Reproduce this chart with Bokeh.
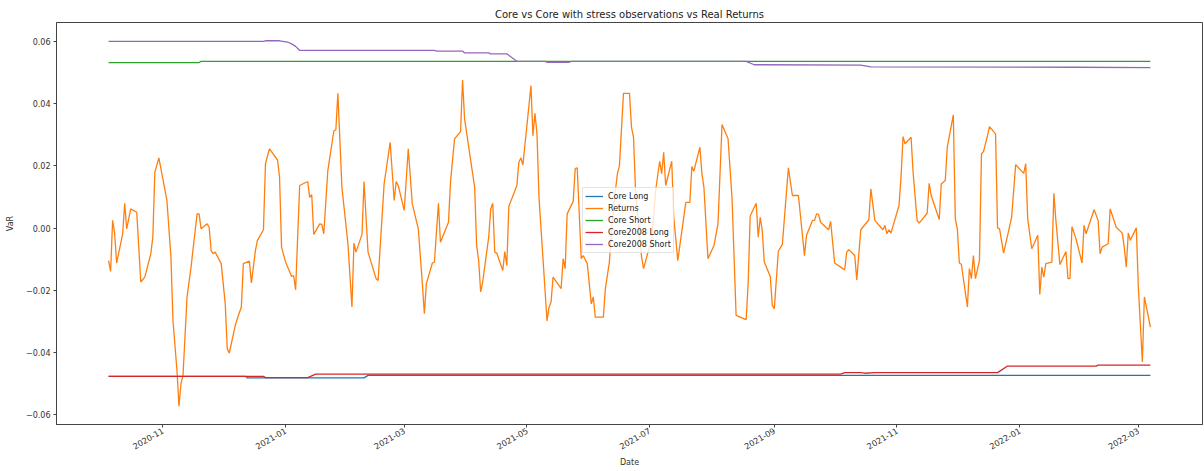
import math
import pandas as pd
from bokeh.plotting import figure
from bokeh.models import (Range1d, MonthsTicker, DatetimeTickFormatter, FixedTicker,
                          CustomJSTickFormatter, Legend, LegendItem)
from bokeh.embed import file_html
from bokeh.resources import INLINE

# ---------------- data ----------------
start_date = "2020-10-05"

returns_day = [0, 1, 2, 3, 4, 7, 8, 9, 11, 14, 16, 18, 21, 22, 23, 25, 29, 31, 32, 34, 35, 36, 37, 39, 41,
               44, 45, 46, 49, 50, 51, 52, 53, 56, 58, 59, 60, 63, 64, 66, 67, 70, 71, 73, 74, 77, 78, 80,
               84, 85, 86, 88, 91, 92, 93, 95, 99, 100, 101, 102, 105, 106, 107, 109, 112, 113, 114, 116,
               119, 121, 122, 123, 126, 127, 129, 133, 134, 137, 140, 142, 143, 144, 147, 149, 151, 154,
               156, 157, 158, 161, 162, 164, 165, 169, 170, 172, 175, 176, 177, 182, 183, 184, 185, 186,
               189, 190, 191, 192, 193, 196, 197, 198, 199, 203, 204, 205, 206, 210, 211, 212, 213, 214,
               218, 219, 220, 221, 225, 226, 227, 228, 231, 232, 233, 235, 236, 238, 240, 241, 242, 246,
               247, 249, 251, 253, 254, 256, 259, 260, 261, 262, 265, 266, 268, 270, 272, 274, 275, 276,
               277, 280, 281, 283, 287, 289, 290, 291, 294, 295, 296, 298, 301, 303, 305, 308, 310, 312,
               317, 318, 319, 322, 323, 324, 325, 326, 329, 330, 331, 333, 335, 338, 340, 343, 344, 346,
               347, 350, 351, 352, 353, 354, 358, 359, 361, 366, 367, 368, 371, 372, 374, 378, 379, 381,
               385, 386, 387, 388, 389, 393, 394, 395, 396, 399, 400, 402, 403, 407, 408, 409, 413, 414,
               416, 417, 420, 421, 422, 423, 424, 427, 428, 429, 430, 431, 433, 434, 435, 437, 438, 441,
               442, 443, 445, 447, 449, 451, 455, 456, 457, 459, 462, 463, 464, 465, 466, 469, 470, 471,
               473, 476, 477, 478, 479, 481, 484, 485, 486, 490, 492, 493, 494, 497, 498, 501, 504, 505,
               506, 507, 508, 511, 512, 514, 515, 518]
returns_value = [-0.0104, -0.0139, 0.0025, -0.0016, -0.0112, -0.0018, 0.0080, -0.0002, 0.0062, 0.0051,
                 -0.0173, -0.0157, -0.0082, -0.0029, 0.0180, 0.0226, 0.0089, -0.0093, -0.0296, -0.0457,
                 -0.0572, -0.0499, -0.0473, -0.0221, -0.0125, 0.0046, 0.0046, -0.0002, 0.0014, 0.0003,
                 -0.0072, -0.0082, -0.0077, -0.0114, -0.0243, -0.0387, -0.0401, -0.0312, -0.0291, -0.0253,
                 -0.0114, -0.0106, -0.0176, -0.0072, -0.0039, -0.0005, 0.0207, 0.0255, 0.0219, 0.0164,
                 -0.0061, -0.0109, -0.0155, -0.0152, -0.0198, 0.0137, 0.0150, 0.0099, 0.0108, -0.0020,
                 0.0014, 0.0012, -0.0018, 0.0185, 0.0313, 0.0316, 0.0433, 0.0132, -0.0050, -0.0253,
                 -0.0048, -0.0077, -0.0020, 0.0150, -0.0077, -0.0162, -0.0168, 0.0142, 0.0276, 0.0089,
                 0.0150, 0.0137, 0.0057, 0.0255, 0.0078, -0.0002, -0.0178, -0.0275, -0.0178, -0.0112,
                 -0.0109, 0.0080, -0.0045, 0.0019, 0.0148, 0.0287, 0.0310, 0.0476, 0.0351, 0.0132,
                 -0.0056, -0.0104, -0.0205, -0.0173, -0.0029, 0.0062, 0.0080, -0.0077, -0.0080, -0.0136,
                 -0.0075, -0.0120, 0.0070, 0.0137, 0.0212, 0.0226, 0.0203, 0.0458, 0.0297, 0.0369,
                 0.0303, 0.0099, -0.0298, -0.0253, -0.0237, -0.0157, -0.0194, -0.0098, -0.0130, 0.0046,
                 0.0086, 0.0191, 0.0194, -0.0098, -0.0088, -0.0114, -0.0243, -0.0221, -0.0286, -0.0286,
                 -0.0194, -0.0109, 0.0067, 0.0175, 0.0201, 0.0433, 0.0433, 0.0324, 0.0292, 0.0121,
                 -0.0093, -0.0130, -0.0082, -0.0039, 0.0121, 0.0215, 0.0175, 0.0244, 0.0137, 0.0215,
                 0.0035, -0.0104, 0.0083, 0.0083, 0.0198, 0.0183, 0.0260, 0.0175, 0.0132, -0.0098,
                 -0.0056, 0.0014, 0.0333, 0.0287, 0.0094, -0.0280, -0.0294, -0.0178, 0.0039, 0.0080,
                 -0.0029, 0.0035, -0.0007, -0.0109, -0.0155, -0.0248, -0.0259, -0.0074, -0.0052, 0.0194,
                 0.0105, 0.0105, 0.0040, -0.0088, -0.0023, 0.0025, 0.0025, 0.0046, 0.0044, 0.0019,
                 -0.0005, 0.0022, -0.0112, -0.0134, -0.0077, -0.0069, -0.0088, -0.0166, -0.0005, 0.0027,
                 0.0126, 0.0025, -0.0005, 0.0009, -0.0018, -0.0005, -0.0016, 0.0073, 0.0164, 0.0294,
                 0.0271, 0.0292, 0.0180, 0.0025, 0.0016, 0.0048, 0.0144, 0.0105, 0.0028, 0.0142,
                 0.0153, 0.0260, 0.0364, 0.0030, -0.0002, -0.0112, -0.0116, -0.0253, -0.0130, -0.0162,
                 -0.0088, -0.0162, -0.0104, 0.0239, 0.0246, 0.0297, 0.0326, 0.0303, 0.0001, -0.0002,
                 -0.0080, -0.0023, 0.0035, 0.0204, 0.0176, 0.0207, 0.0030, -0.0066, -0.0023, -0.0213,
                 -0.0125, -0.0157, -0.0114, -0.0109, 0.0112, 0.0025, -0.0117, -0.0075, -0.0162, -0.0162,
                 0.0005, -0.0034, -0.0112, 0.0009, -0.0018, 0.0059, 0.0025, -0.0082, -0.0061, -0.0050,
                 0.0062, 0.0003, -0.0016, -0.0061, -0.0125, -0.0015, -0.0039, 0.0001, -0.0189, -0.0430,
                 -0.0221, -0.0318]

core_long_day = [0, 68, 69, 127, 129, 518]
core_long_value = [-0.0476, -0.0476, -0.0481, -0.0481, -0.0473, -0.0473]

core_short_day = [0, 45, 46, 518]
core_short_value = [0.0532, 0.0532, 0.0536, 0.0536]

core2008_long_day = [0, 77, 78, 99, 103, 364, 366, 374, 376, 381, 442, 447, 491, 492, 518]
core2008_long_value = [-0.0476, -0.0476, -0.0480, -0.0480, -0.0469, -0.0469, -0.0464, -0.0464,
                       -0.0466, -0.0464, -0.0464, -0.0443, -0.0443, -0.0440, -0.0440]

core2008_short_day = [0, 77, 78, 85, 89, 91, 93, 95, 162, 163, 176, 177, 189, 190, 198, 203, 217,
                      218, 229, 230, 317, 321, 374, 379, 480, 518]
core2008_short_value = [0.0600, 0.0600, 0.0602, 0.0602, 0.0598, 0.0592, 0.0584, 0.0571, 0.0571,
                        0.0569, 0.0569, 0.0563, 0.0563, 0.0560, 0.0560, 0.0536, 0.0536, 0.0533,
                        0.0533, 0.0536, 0.0536, 0.0525, 0.0524, 0.0518, 0.0517, 0.0516]

y_ticks = [-0.06, -0.04, -0.02, 0.0, 0.02, 0.04, 0.06]
x_tick_months = [0, 2, 4, 6, 8, 10]   # Jan, Mar, May, Jul, Sep, Nov (0-based)

series_names = ["Core Long", "Returns", "Core Short", "Core2008 Long", "Core2008 Short"]
series_colors = ["#1f77b4", "#ff7f0e", "#2ca02c", "#d62728", "#9467bd"]

# ---------------- build ----------------
base = pd.Timestamp(start_date)


def to_dates(days):
    return base + pd.to_timedelta(days, unit="D")


series = [
    (to_dates(core_long_day), core_long_value),
    (to_dates(returns_day), returns_value),
    (to_dates(core_short_day), core_short_value),
    (to_dates(core2008_long_day), core2008_long_value),
    (to_dates(core2008_short_day), core2008_short_value),
]

all_x = pd.DatetimeIndex(pd.concat([pd.Series(s[0]) for s in series]))
all_y = [v for s in series for v in s[1]]
xmin, xmax = all_x.min(), all_x.max()
xpad = (xmax - xmin) * 0.05
ymin, ymax = min(all_y), max(all_y)
ypad = (ymax - ymin) * 0.05

FONT = "DejaVu Sans"

p = figure(
    x_axis_type="datetime",
    width=1204, height=471,
    output_backend="svg", toolbar_location=None,
    title="Core vs Core with stress observations vs Real Returns",
    x_range=Range1d(xmin - xpad, xmax + xpad),
    y_range=Range1d(ymin - ypad, ymax + ypad),
    min_border_left=56, min_border_right=2, min_border_top=22, min_border_bottom=47,
)
p.background_fill_color = "white"
p.border_fill_color = "white"
p.outline_line_color = "#444444"
p.outline_line_width = 1
p.xgrid.visible = False
p.ygrid.visible = False

p.title.align = "center"
p.title.text_font = FONT
p.title.text_font_size = "10px"
p.title.text_font_style = "normal"
p.title.text_color = "#222222"
p.title.standoff = 6

for ax in (p.xaxis[0], p.yaxis[0]):
    ax.axis_line_color = "#444444"
    ax.major_tick_line_color = "#444444"
    ax.minor_tick_line_color = None
    ax.major_tick_in = 0
    ax.major_tick_out = 3
    ax.major_label_text_font = FONT
    ax.major_label_text_font_size = "8px"
    ax.major_label_text_color = "#333333"
    ax.axis_label_text_font = FONT
    ax.axis_label_text_font_size = "8px"
    ax.axis_label_text_font_style = "normal"
    ax.axis_label_text_color = "#333333"
    ax.major_label_standoff = 3
    ax.axis_label_standoff = 8

p.xaxis.axis_label = "Date"
p.yaxis.axis_label = "VaR"
p.xaxis.major_label_text_font_size = "8.2px"
p.xaxis.major_label_standoff = 2
p.xaxis.axis_label_standoff = 2
p.xaxis.ticker = MonthsTicker(months=x_tick_months)
p.xaxis.formatter = DatetimeTickFormatter(months="%Y-%m", years="%Y-%m", days="%Y-%m")
p.xaxis.major_label_orientation = math.pi / 6
p.yaxis.ticker = FixedTicker(ticks=y_ticks)
p.yaxis.formatter = CustomJSTickFormatter(code="""
    if (Math.abs(tick) < 1e-12) { return "0.00"; }
    return (tick < 0 ? "\u2212" : "") + Math.abs(tick).toFixed(2);
""")

items = []
for (xs, ys), name, color in zip(series, series_names, series_colors):
    r = p.line(x=xs, y=ys, line_color=color, line_width=1.3)
    items.append(LegendItem(label=name, renderers=[r]))

legend = Legend(items=items, location=(526, 171))
legend.label_text_font = FONT
legend.label_text_font_size = "8px"
legend.label_text_color = "#222222"
legend.glyph_width = 18
legend.glyph_height = 12
legend.label_height = 12
legend.label_standoff = 5
legend.spacing = 0
legend.padding = 2
legend.margin = 0
legend.border_line_color = "#cccccc"
legend.border_line_width = 1
legend.background_fill_alpha = 0.8
p.add_layout(legend, "center")

open("out.html", "w").write(file_html(p, INLINE))
